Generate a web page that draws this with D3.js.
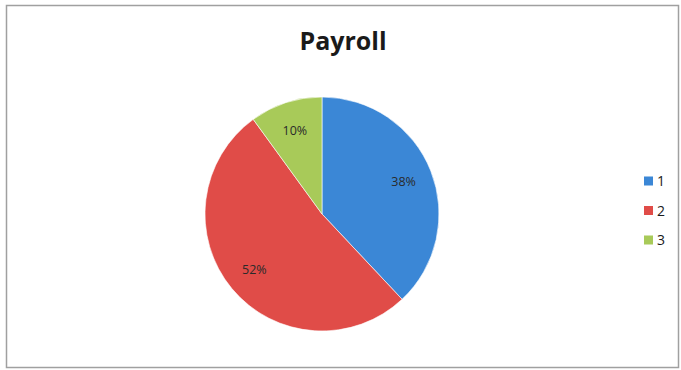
<!DOCTYPE html>
<html>
<head>
<meta charset="utf-8">
<script src="https://cdn.jsdelivr.net/npm/d3@7"></script>
<style>
  html, body { margin: 0; padding: 0; background: #fff; }
  svg { display: block; }
</style>
</head>
<body>
<svg id="chart" width="681" height="370"></svg>
<script>
// Payroll split by group
const categories = ["1", "2", "3"];
const values = [38, 52, 10];
const colors = ["#3b87d6", "#e04c48", "#a8ca59"];

const svg = d3.select("#chart");
const W = 681, H = 370;

// chart frame
svg.append("rect")
  .attr("x", 6.5).attr("y", 5.5)
  .attr("width", 672).attr("height", 362)
  .attr("fill", "#fff")
  .attr("stroke", "#a0a0a0")
  .attr("stroke-width", 1.5);

// title
svg.append("text")
  .attr("x", 343).attr("y", 50)
  .attr("text-anchor", "middle")
  .attr("font-family", "'Open Sans', 'DejaVu Sans', sans-serif")
  .attr("font-weight", "bold")
  .attr("font-size", 25)
  .attr("fill", "#1a1a1a")
  .text("Payroll");

const cx = 322, cy = 214, R = 117;
const data = categories.map((c, i) => ({ cat: c, value: values[i], color: colors[i] }));

const pie = d3.pie().value(d => d.value).sort(null);
const arc = d3.arc().innerRadius(0).outerRadius(R);
const labelArc = d3.arc().innerRadius(R * 0.75).outerRadius(R * 0.75);

const g = svg.append("g").attr("transform", `translate(${cx},${cy})`);
const arcs = pie(data);

g.selectAll("path.slice")
  .data(arcs)
  .join("path")
  .attr("class", "slice")
  .attr("d", arc)
  .attr("fill", d => d.data.color)
  .attr("stroke", "#fff")
  .attr("stroke-width", 0.6);

const total = d3.sum(values);
g.selectAll("text.pct")
  .data(arcs)
  .join("text")
  .attr("class", "pct")
  .attr("transform", d => `translate(${labelArc.centroid(d)})`)
  .attr("text-anchor", "middle")
  .attr("dy", "0.35em")
  .attr("font-family", "'Open Sans', 'DejaVu Sans', sans-serif")
  .attr("font-size", 12.5)
  .attr("fill", "#2a2a2a")
  .text(d => Math.round(d.data.value / total * 100) + "%");

// legend
const legend = svg.append("g").attr("transform", "translate(644,181)");
const item = legend.selectAll("g.item")
  .data(data)
  .join("g")
  .attr("class", "item")
  .attr("transform", (d, i) => `translate(0,${i * 29.5})`);
item.append("rect")
  .attr("x", 0).attr("y", -4.5)
  .attr("width", 9).attr("height", 9)
  .attr("fill", d => d.color);
item.append("text")
  .attr("x", 13).attr("y", 0)
  .attr("dy", "0.36em")
  .attr("font-family", "'Open Sans', 'DejaVu Sans', sans-serif")
  .attr("font-size", 14)
  .attr("fill", "#1a1a1a")
  .text(d => d.cat);
</script>
</body>
</html>
